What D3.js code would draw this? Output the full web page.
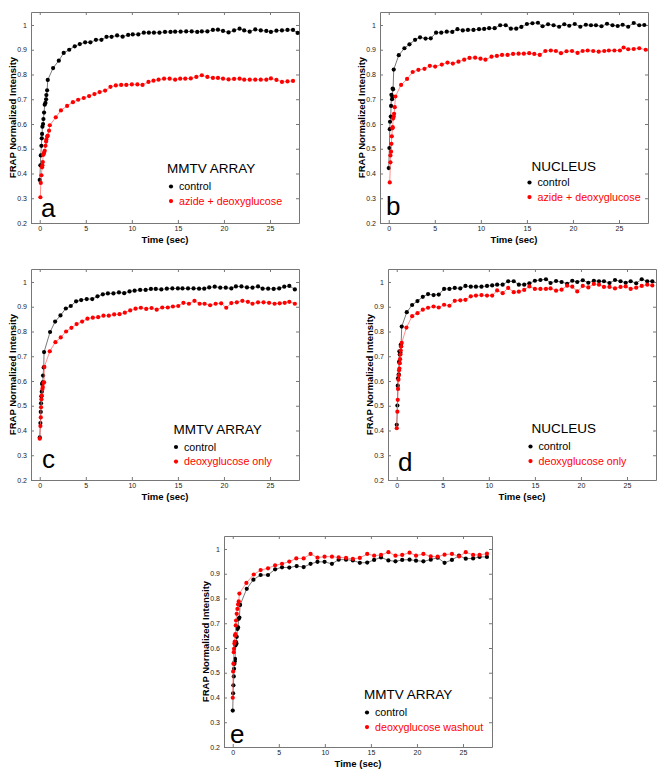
<!DOCTYPE html>
<html>
<head>
<meta charset="utf-8">
<script src="https://cdn.jsdelivr.net/npm/d3@7"></script>
<style>
  body { margin: 0; background: #fff; }
  svg { display: block; font-family: "Liberation Sans", Arial, sans-serif; }
</style>
</head>
<body>
<svg id="chart" width="665" height="776"></svg>
<script>
// tick values shared by all five panels
let x_ticks = [0, 5, 10, 15, 20, 25];
let y_ticks = [0.2, 0.3, 0.4, 0.5, 0.6, 0.7, 0.8, 0.9, 1];
let y_tick_labels = ['0.2', '0.3', '0.4', '0.5', '0.6', '0.7', '0.8', '0.9', '1'];

// panel a : MMTV array, control vs azide + deoxyglucose  ([time sec, intensity])
let a_control = [[0,0.374],[0.07,0.433],[0.11,0.473],[0.18,0.512],[0.22,0.542],[0.25,0.56],[0.29,0.589],[0.36,0.6],[0.4,0.62],[0.47,0.646],[0.54,0.678],[0.62,0.685],[0.69,0.7],[0.72,0.717],[0.8,0.736],[0.87,0.778],
  [1.45,0.826],[2.07,0.856],[2.6,0.887],[3.2,0.9],[3.8,0.914],[4.35,0.923],[4.93,0.93],[5.5,0.93],[6.1,0.94],[6.7,0.94],[7.25,0.952],[7.8,0.952],[8.4,0.958],[9.0,0.953],[9.6,0.96],[10.1,0.962],[10.7,0.962],[11.3,0.969],[11.85,0.969],[12.4,0.969],[13.0,0.969],[13.6,0.972],[14.2,0.972],[14.7,0.973],[15.3,0.973],[15.9,0.974],[16.5,0.974],[17.1,0.972],[17.6,0.974],[18.2,0.974],[18.8,0.98],[19.35,0.981],[19.9,0.976],[20.5,0.97],[21.1,0.978],[21.7,0.985],[22.2,0.978],[22.8,0.973],[23.4,0.982],[24.0,0.978],[24.6,0.976],[25.1,0.972],[25.7,0.977],[26.3,0.978],[26.9,0.98],[27.5,0.98],[28.0,0.968]];
let a_treated = [[0.07,0.304],[0.11,0.362],[0.18,0.393],[0.25,0.425],[0.29,0.433],[0.33,0.446],[0.36,0.475],[0.43,0.479],[0.47,0.484],[0.54,0.492],[0.62,0.512],[0.69,0.529],[0.72,0.537],[0.8,0.549],[0.87,0.553],[1.01,0.573],[1.09,0.595],
  [1.74,0.627],[2.3,0.655],[2.97,0.673],[3.6,0.688],[4.17,0.698],[4.78,0.705],[5.36,0.713],[5.94,0.721],[6.5,0.729],[7.1,0.735],[7.68,0.75],[8.26,0.756],[8.84,0.758],[9.4,0.758],[10.0,0.76],[10.6,0.76],[11.16,0.758],[11.8,0.77],[12.35,0.775],[12.9,0.779],[13.5,0.783],[14.1,0.783],[14.7,0.779],[15.25,0.783],[15.8,0.783],[16.4,0.784],[17.0,0.79],[17.6,0.797],[18.2,0.79],[18.8,0.786],[19.35,0.786],[19.9,0.783],[20.5,0.78],[21.1,0.782],[21.7,0.783],[22.2,0.779],[22.8,0.779],[23.4,0.779],[24.0,0.779],[24.6,0.779],[25.1,0.784],[25.7,0.778],[26.3,0.77],[26.9,0.772],[27.5,0.774]];

// panel b : nucleus, control vs azide + deoxyglucose
let b_control = [[0,0.422],[0.07,0.503],[0.11,0.579],[0.14,0.609],[0.22,0.63],[0.25,0.673],[0.29,0.718],[0.36,0.7],[0.4,0.71],[0.43,0.743],[0.47,0.74],[0.54,0.82],
  [1.09,0.878],[1.7,0.906],[2.25,0.922],[2.86,0.94],[3.4,0.95],[4.0,0.945],[4.56,0.946],[5.14,0.969],[5.7,0.969],[6.3,0.973],[6.9,0.972],[7.46,0.983],[8.04,0.978],[8.6,0.98],[9.2,0.98],[9.8,0.983],[10.36,0.984],[10.9,0.987],[11.5,0.987],[12.1,0.999],[12.7,0.999],[13.26,0.985],[13.84,0.985],[14.4,0.992],[15.0,1.004],[15.6,1.007],[16.2,1.009],[16.7,0.995],[17.3,1.003],[17.9,0.999],[18.5,0.993],[19.06,1.003],[19.6,0.997],[20.2,1.004],[20.8,0.993],[21.4,1.001],[21.96,0.999],[22.5,0.999],[23.1,0.995],[23.7,1.005],[24.3,0.999],[24.86,0.996],[25.4,1.001],[26.0,0.993],[26.6,1.008],[27.2,0.999],[27.75,1.0]];
let b_treated = [[0.11,0.364],[0.18,0.445],[0.18,0.473],[0.25,0.488],[0.29,0.52],[0.33,0.55],[0.4,0.583],[0.43,0.587],[0.47,0.622],[0.54,0.63],[0.58,0.641],[0.65,0.668],[0.72,0.711],
  [1.34,0.758],[1.99,0.782],[2.6,0.81],[3.22,0.819],[3.88,0.823],[4.46,0.835],[5.04,0.832],[5.76,0.84],[6.38,0.848],[6.96,0.844],[7.57,0.852],[8.19,0.86],[8.77,0.867],[9.38,0.868],[9.96,0.864],[10.5,0.86],[11.16,0.872],[11.74,0.875],[12.3,0.879],[12.9,0.879],[13.5,0.883],[14.1,0.884],[14.67,0.884],[15.25,0.886],[15.8,0.883],[16.4,0.879],[17.0,0.895],[17.6,0.897],[18.15,0.895],[18.7,0.886],[19.3,0.894],[19.9,0.895],[20.5,0.887],[21.05,0.895],[21.6,0.897],[22.2,0.895],[22.8,0.892],[23.4,0.895],[23.9,0.897],[24.5,0.897],[25.1,0.897],[25.5,0.909],[26.0,0.902],[26.6,0.903],[27.2,0.906],[27.9,0.9]];

// panel c : MMTV array, control vs deoxyglucose only
let c_control = [[0,0.372],[0.07,0.43],[0.11,0.475],[0.14,0.51],[0.18,0.538],[0.22,0.557],[0.25,0.588],[0.33,0.595],[0.36,0.622],[0.43,0.655],[0.47,0.717],
  [1.12,0.798],[1.67,0.84],[2.25,0.865],[2.83,0.893],[3.37,0.903],[3.95,0.922],[4.5,0.927],[5.1,0.931],[5.7,0.931],[6.27,0.942],[6.85,0.95],[7.4,0.954],[8.0,0.954],[8.6,0.958],[9.17,0.955],[9.75,0.962],[10.3,0.965],[10.9,0.968],[11.5,0.968],[12.07,0.972],[12.6,0.972],[13.2,0.97],[13.8,0.973],[14.4,0.974],[15.0,0.974],[15.5,0.974],[16.1,0.974],[16.7,0.974],[17.3,0.973],[17.86,0.973],[18.4,0.978],[19.0,0.981],[19.6,0.977],[20.2,0.977],[20.8,0.974],[21.3,0.982],[21.9,0.982],[22.5,0.978],[23.1,0.977],[23.7,0.982],[24.2,0.973],[24.8,0.973],[25.4,0.972],[26.0,0.974],[26.55,0.981],[27.1,0.984],[27.7,0.97]];
let c_treated = [[0,0.367],[0.07,0.418],[0.11,0.453],[0.14,0.494],[0.18,0.526],[0.22,0.541],[0.29,0.568],[0.33,0.576],[0.4,0.592],[0.47,0.595],[0.5,0.657],
  [1.09,0.72],[1.7,0.757],[2.28,0.776],[2.86,0.8],[3.44,0.815],[4.0,0.83],[4.6,0.84],[5.18,0.852],[5.76,0.856],[6.34,0.858],[6.92,0.864],[7.5,0.864],[8.08,0.869],[8.66,0.87],[9.24,0.876],[9.82,0.885],[10.4,0.892],[10.98,0.896],[11.56,0.891],[12.14,0.895],[12.7,0.888],[13.3,0.897],[13.9,0.897],[14.46,0.901],[15.04,0.903],[15.6,0.916],[16.2,0.912],[16.8,0.924],[17.36,0.912],[17.9,0.912],[18.5,0.906],[19.1,0.912],[19.7,0.914],[20.25,0.896],[20.8,0.915],[21.4,0.918],[22.0,0.924],[22.6,0.92],[23.1,0.912],[23.7,0.918],[24.3,0.918],[24.9,0.916],[25.5,0.912],[26.05,0.914],[26.6,0.916],[27.1,0.92],[27.7,0.912]];

// panel d : nucleus, control vs deoxyglucose only
let d_control = [[0,0.423],[0.07,0.501],[0.11,0.581],[0.14,0.611],[0.22,0.627],[0.25,0.677],[0.29,0.72],[0.33,0.707],[0.4,0.714],[0.43,0.746],[0.47,0.74],[0.54,0.82],
  [1.09,0.878],[1.67,0.907],[2.25,0.923],[2.83,0.94],[3.4,0.951],[4.0,0.947],[4.56,0.949],[5.14,0.972],[5.72,0.972],[6.3,0.976],[6.9,0.974],[7.46,0.984],[8.04,0.981],[8.6,0.981],[9.2,0.981],[9.8,0.984],[10.36,0.986],[10.9,0.989],[11.5,0.989],[12.1,1.003],[12.7,1.003],[13.26,0.989],[13.84,0.989],[14.4,0.995],[15.0,1.005],[15.6,1.008],[16.2,1.011],[16.7,0.996],[17.3,1.004],[17.9,1.0],[18.5,0.993],[19.06,1.005],[19.6,1.0],[20.2,1.007],[20.8,0.997],[21.4,1.005],[21.96,1.003],[22.5,1.003],[23.1,0.996],[23.7,1.008],[24.3,1.003],[24.86,0.997],[25.4,1.003],[26.0,0.995],[26.6,1.011],[27.2,1.003],[27.75,1.003]];
let d_treated = [[0,0.409],[0.07,0.476],[0.11,0.524],[0.14,0.568],[0.18,0.605],[0.22,0.622],[0.25,0.643],[0.29,0.65],[0.33,0.672],[0.36,0.688],[0.4,0.707],[0.43,0.723],[0.47,0.739],[0.54,0.754],
  [1.05,0.816],[1.67,0.862],[2.25,0.874],[2.83,0.888],[3.4,0.896],[4.0,0.901],[4.56,0.897],[5.14,0.908],[5.72,0.904],[6.3,0.924],[6.9,0.926],[7.46,0.928],[8.04,0.942],[8.6,0.945],[9.2,0.947],[9.8,0.945],[10.36,0.945],[10.9,0.966],[11.5,0.955],[12.1,0.976],[12.7,0.959],[13.26,0.961],[13.84,0.968],[14.4,0.982],[15.0,0.972],[15.6,0.972],[16.2,0.972],[16.7,0.974],[17.3,0.965],[17.9,0.969],[18.5,0.985],[19.06,0.981],[19.6,0.962],[20.2,0.984],[20.8,0.978],[21.4,0.992],[21.96,0.989],[22.5,0.98],[23.1,0.98],[23.7,0.974],[24.3,0.98],[24.86,0.982],[25.4,0.972],[26.0,0.977],[26.6,0.984],[27.2,0.989],[27.75,0.986]];

// panel e : MMTV array, control vs deoxyglucose washout
let e_control = [[0,0.347],[0.04,0.417],[0.07,0.449],[0.11,0.485],[0.14,0.516],[0.18,0.536],[0.22,0.546],[0.25,0.556],[0.29,0.61],[0.33,0.616],[0.36,0.624],[0.4,0.618],[0.43,0.645],[0.51,0.677],[0.58,0.683],[0.65,0.718],[0.72,0.723],[0.8,0.774],
  [1.52,0.839],[2.24,0.876],[3.03,0.895],[3.83,0.895],[4.6,0.918],[5.35,0.926],[6.14,0.925],[6.94,0.931],[7.7,0.927],[8.45,0.94],[9.2,0.948],[9.97,0.948],[10.77,0.94],[11.5,0.957],[12.3,0.957],[13.04,0.954],[13.8,0.944],[14.6,0.945],[15.35,0.956],[16.1,0.966],[16.9,0.954],[17.67,0.95],[18.4,0.956],[19.2,0.957],[19.9,0.953],[20.7,0.95],[21.5,0.957],[22.25,0.965],[23.0,0.944],[23.8,0.956],[24.57,0.973],[25.3,0.961],[26.1,0.962],[26.8,0.968],[27.6,0.968]];
let e_treated = [[0,0.399],[0.04,0.505],[0.07,0.536],[0.11,0.583],[0.14,0.597],[0.18,0.618],[0.22,0.626],[0.25,0.65],[0.29,0.656],[0.33,0.691],[0.36,0.711],[0.43,0.738],[0.51,0.758],[0.58,0.776],[0.65,0.788],[0.72,0.82],
  [1.48,0.863],[2.28,0.897],[3.03,0.915],[3.83,0.922],[4.6,0.934],[5.35,0.94],[6.14,0.949],[6.9,0.962],[7.7,0.962],[8.45,0.98],[9.2,0.965],[9.97,0.969],[10.77,0.969],[11.5,0.966],[12.3,0.964],[13.04,0.96],[13.8,0.964],[14.6,0.98],[15.35,0.973],[16.1,0.976],[16.9,0.987],[17.67,0.973],[18.4,0.976],[19.2,0.985],[19.9,0.973],[20.7,0.98],[21.5,0.97],[22.25,0.969],[23.0,0.977],[23.8,0.98],[24.57,0.97],[25.3,0.987],[26.1,0.976],[26.8,0.976],[27.6,0.981]];

let panel_letters = ['a', 'b', 'c', 'd', 'e'];
let panel_titles = ['MMTV ARRAY', 'NUCLEUS', 'MMTV ARRAY', 'NUCLEUS', 'MMTV ARRAY'];
let control_label = 'control';
let treated_labels = ['azide + deoxyglucose', 'azide + deoxyglucose', 'deoxyglucose only', 'deoxyglucose only', 'deoxyglucose washout'];
let control_series = [a_control, b_control, c_control, d_control, e_control];
let treated_series = [a_treated, b_treated, c_treated, d_treated, e_treated];

// frame position of each plot (top-left corner of the axes box)
let panel_pos = [[31, 12], [380, 12], [31, 269], [388, 269], [224, 536]];
// legend title / first legend marker / letter, relative to the axes box
let title_pos = [[136, 161], [151.5, 158.5], [142.5, 165], [143.5, 164], [140, 163]];
let marker_pos = [[140, 174.5], [149.5, 170.5], [145, 178], [142.5, 177.5], [143, 176.5]];
let letter_pos = [[10, 205], [6, 203], [11, 199], [10, 202], [6, 207]];

let plot_w = 268, plot_h = 211;
let color_control = '#000', color_treated = '#ff0000';
let line_control = '#555', line_treated = '#ff7070';

let svg = d3.select('#chart');

function draw_panel(index) {
    let pos = panel_pos[index];
    let g = svg.append('g').attr('transform', 'translate(' + pos[0] + ',' + pos[1] + ')');

    let x = d3.scaleLinear().domain([-0.95, 28.15]).range([0, plot_w]);
    let y = d3.scaleLinear().domain([0.2, 1.0525]).range([plot_h, 0]);

    // frame with inward ticks on all four sides
    g.append('g').attr('transform', 'translate(0,' + plot_h + ')')
        .call(d3.axisBottom(x).tickValues(x_ticks).tickSizeInner(-3).tickSizeOuter(0).tickPadding(3.5));
    g.append('g')
        .call(d3.axisTop(x).tickValues(x_ticks).tickSizeInner(-3).tickSizeOuter(0).tickFormat(''));
    g.append('g')
        .call(d3.axisLeft(y).tickValues(y_ticks).tickSizeInner(-3).tickSizeOuter(0).tickPadding(4)
            .tickFormat((d, i) => y_tick_labels[i]));
    g.append('g').attr('transform', 'translate(' + plot_w + ',0)')
        .call(d3.axisRight(y).tickValues(y_ticks).tickSizeInner(-3).tickSizeOuter(0).tickFormat(''));

    g.selectAll('.domain').attr('stroke', '#777');
    g.selectAll('.tick line').attr('stroke', '#777');
    g.selectAll('.tick text').attr('font-size', '7px').attr('fill', '#222')
        .attr('font-family', '"Liberation Sans", Arial, sans-serif');

    g.append('text')
        .attr('x', plot_w / 2).attr('y', plot_h + 19.5)
        .attr('text-anchor', 'middle').attr('font-size', '9.5px').attr('font-weight', 'bold')
        .text('Time (sec)');
    g.append('text')
        .attr('transform', 'translate(-15,' + (plot_h / 2) + ') rotate(-90)')
        .attr('text-anchor', 'middle').attr('font-size', '9.5px').attr('font-weight', 'bold')
        .text('FRAP Normalized Intensity');

    let line = d3.line().x(d => x(d[0])).y(d => y(d[1]));

    [[control_series[index], color_control, line_control], [treated_series[index], color_treated, line_treated]]
        .forEach(function (s) {
            g.append('path').datum(s[0])
                .attr('fill', 'none').attr('stroke', s[2]).attr('stroke-width', 0.8)
                .attr('d', line);
            g.append('g').selectAll('circle').data(s[0]).enter().append('circle')
                .attr('cx', d => x(d[0])).attr('cy', d => y(d[1]))
                .attr('r', 2.1).attr('fill', s[1]);
        });

    // panel letter
    g.append('text').attr('x', letter_pos[index][0]).attr('y', letter_pos[index][1])
        .attr('font-size', '26px').text(panel_letters[index]);

    // legend
    let t = title_pos[index], m = marker_pos[index];
    g.append('text').attr('x', t[0]).attr('y', t[1])
        .attr('font-size', '13.5px').text(panel_titles[index]);
    g.append('circle').attr('cx', m[0]).attr('cy', m[1]).attr('r', 2.1).attr('fill', color_control);
    g.append('text').attr('x', m[0] + 8).attr('y', m[1] + 3.6)
        .attr('font-size', '10.7px').text(control_label);
    g.append('circle').attr('cx', m[0]).attr('cy', m[1] + 14.6).attr('r', 2.1).attr('fill', color_treated);
    g.append('text').attr('x', m[0] + 8).attr('y', m[1] + 18.2)
        .attr('font-size', '10.7px').attr('fill', color_treated).text(treated_labels[index]);
}

panel_letters.forEach(function (letter, index) {
    draw_panel(index);
});
</script>
</body>
</html>
